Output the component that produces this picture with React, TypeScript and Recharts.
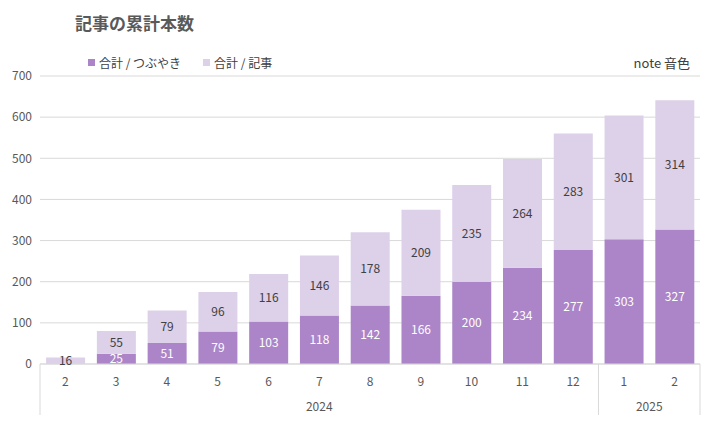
import { BarChart, Bar, XAxis, YAxis, CartesianGrid, LabelList } from "recharts";

const months = ["2", "3", "4", "5", "6", "7", "8", "9", "10", "11", "12", "1", "2"];
const years = ["2024", "2024", "2024", "2024", "2024", "2024", "2024", "2024", "2024", "2024", "2024", "2025", "2025"];
const tsubuyaki = [0, 25, 51, 79, 103, 118, 142, 166, 200, 234, 277, 303, 327];
const kiji = [16, 55, 79, 96, 116, 146, 178, 209, 235, 264, 283, 301, 314];
const yTicks = [0, 100, 200, 300, 400, 500, 600, 700];

const DARK = "#ab85c7";
const LIGHT = "#ddd0e9";
const FONT = "'Noto Sans CJK JP', 'Noto Sans', sans-serif";

const data = months.map((m, i) => ({
  month: m,
  year: years[i],
  tsubuyaki: tsubuyaki[i],
  kiji: kiji[i],
}));

const BAND = 660 / months.length;

function MonthTick(props: any) {
  const { x, y, payload } = props;
  const i = payload.index;
  const first = i === 0 || years[i] !== years[i - 1];
  const last = i === years.length - 1 || years[i] !== years[i + 1];
  let yearX: number | null = null;
  if (first) {
    let j = i;
    while (j + 1 < years.length && years[j + 1] === years[i]) j++;
    yearX = x + ((j - i) * BAND) / 2;
  }
  return (
    <g>
      <text x={x} y={y + 14} textAnchor="middle" fill="#595959" fontSize={12} fontFamily={FONT}>
        {payload.value}
      </text>
      {first && <line x1={x - BAND / 2} x2={x - BAND / 2} y1={y - 8} y2={y + 43} stroke="#d9d9d9" />}
      {last && i === years.length - 1 && (
        <line x1={x + BAND / 2} x2={x + BAND / 2} y1={y - 8} y2={y + 43} stroke="#d9d9d9" />
      )}
      {yearX !== null && (
        <text x={yearX} y={y + 39} textAnchor="middle" fill="#595959" fontSize={12} fontFamily={FONT}>
          {years[i]}
        </text>
      )}
    </g>
  );
}

export default function App() {
  return (
    <div style={{ position: "absolute", left: 0, top: 0, width: 709, height: 422, background: "#fff", fontFamily: FONT }}>
      <div style={{ position: "absolute", left: 75, top: 10, fontSize: 17, fontWeight: "bold", color: "#595959" }}>
        記事の累計本数
      </div>
      <div style={{ position: "absolute", left: 88, top: 54, fontSize: 12, color: "#404040", display: "flex", alignItems: "center" }}>
        <span style={{ width: 7, height: 7, background: DARK, display: "inline-block", marginRight: 4 }} />
        合計 / つぶやき
        <span style={{ width: 7, height: 7, background: LIGHT, display: "inline-block", marginLeft: 22, marginRight: 4 }} />
        合計 / 記事
      </div>
      <div style={{ position: "absolute", right: 19, top: 53, fontSize: 13, color: "#404040" }}>note 音色</div>
      <BarChart
        width={709}
        height={422}
        data={data}
        margin={{ top: 76, right: 9, left: 5, bottom: 0 }}
        barCategoryGap="12%"
      >
        <CartesianGrid vertical={false} stroke="#d9d9d9" />
        <XAxis
          dataKey="month"
          interval={0}
          height={58}
          tickLine={false}
          axisLine={{ stroke: "#d9d9d9" }}
          tick={<MonthTick />}
        />
        <YAxis
          width={35}
          domain={[0, 700]}
          ticks={yTicks}
          tickLine={false}
          axisLine={false}
          tick={{ fill: "#595959", fontSize: 12, fontFamily: FONT }}
        />
        <Bar dataKey="tsubuyaki" stackId="a" fill={DARK} isAnimationActive={false}>
          <LabelList
            dataKey="tsubuyaki"
            position="center"
            fill="#fff"
            fontSize={12}
            formatter={(v: any) => (v > 0 ? v : "")}
          />
        </Bar>
        <Bar dataKey="kiji" stackId="a" fill={LIGHT} isAnimationActive={false}>
          <LabelList dataKey="kiji" position="center" fill="#404040" fontSize={12} />
        </Bar>
      </BarChart>
    </div>
  );
}
